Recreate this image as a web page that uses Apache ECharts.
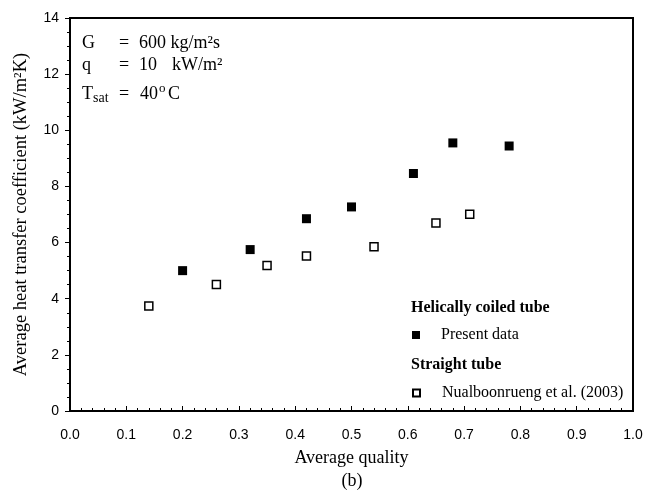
<!DOCTYPE html>
<html>
<head>
<meta charset="utf-8">
<script src="https://cdn.jsdelivr.net/npm/echarts@6/dist/echarts.min.js"></script>
<style>
  html, body { margin: 0; padding: 0; background: #fff; }
  #main { width: 659px; height: 492px; }
</style>
</head>
<body>
<div id="main"></div>
<script>
// helically coiled tube (present data)
const coiledX = [0.20, 0.32, 0.42, 0.50, 0.61, 0.68, 0.78];
const coiledH = [5.0, 5.75, 6.85, 7.27, 8.46, 9.55, 9.44];
// straight tube (Nualboonrueng et al. 2003)
const straightX = [0.14, 0.26, 0.35, 0.42, 0.54, 0.65, 0.71];
const straightH = [3.74, 4.51, 5.18, 5.52, 5.85, 6.70, 7.01];

const serif = 'Liberation Serif';
const sans = 'Liberation Sans';

function pairs(xs, ys) {
  return xs.map((x, i) => [x, ys[i]]);
}
// plain text helper for the graphic layer
function txt(x, y, s, font, align) {
  return { type: 'text', x: x, y: y, style: { text: s, font: font, fill: '#000',
    textAlign: align || 'left', textVerticalAlign: 'middle' } };
}

var myChart = echarts.init(document.getElementById('main'));

const f18 = '18px "Liberation Serif"';

var option = {
  backgroundColor: '#fff',
  animation: false,
  grid: {
    left: 70, right: 26, top: 18, bottom: 81,
    show: true, borderColor: '#000', borderWidth: 2
  },
  xAxis: {
    type: 'value', min: 0, max: 1, interval: 0.1,
    name: 'Average quality', nameLocation: 'middle', nameGap: 38,
    nameTextStyle: { fontFamily: serif, fontSize: 18, color: '#000' },
    axisLine: { lineStyle: { color: '#000', width: 2 } },
    axisTick: { inside: true, length: 5, lineStyle: { color: '#000' } },
    minorTick: { show: true, splitNumber: 5, length: 3, lineStyle: { color: '#000' } },
    axisLabel: { fontFamily: sans, fontSize: 14, color: '#000', margin: 17,
      formatter: v => v.toFixed(1) },
    splitLine: { show: false }
  },
  yAxis: {
    type: 'value', min: 0, max: 14, interval: 2,
    name: 'Average heat transfer coefficient (kW/m²K)', nameLocation: 'middle', nameGap: 39,
    nameTextStyle: { fontFamily: serif, fontSize: 18.5, color: '#000' },
    axisLine: { lineStyle: { color: '#000', width: 2 } },
    axisTick: { length: 5, lineStyle: { color: '#000' } },
    minorTick: { show: true, splitNumber: 4, length: 3, lineStyle: { color: '#000' } },
    axisLabel: { fontFamily: sans, fontSize: 14, color: '#000', margin: 11 },
    splitLine: { show: false }
  },
  legend: [
    {
      data: ['Present data'], left: 412, top: 327, padding: 0, itemWidth: 8, itemHeight: 8,
      textStyle: { fontFamily: serif, fontSize: 16, color: '#000', padding: [0, 0, 0, 16] }
    },
    {
      data: ['Nualboonrueng et al. (2003)'], left: 412, top: 385, padding: 0, itemWidth: 7, itemHeight: 7,
      textStyle: { fontFamily: serif, fontSize: 16, color: '#000', padding: [0, 0, 0, 17] }
    }
  ],
  graphic: [
    txt(82, 43, 'G', f18), txt(119, 43, '=', f18), txt(139, 43, '600 kg/m²s', f18),
    txt(82, 65, 'q', f18), txt(119, 65, '=', f18), txt(139, 65, '10', f18), txt(172, 65, 'kW/m²', f18),
    txt(82, 94, 'T', f18), txt(93, 98, 'sat', '14px "Liberation Serif"'),
    txt(119, 94, '=', f18), txt(140, 94, '40', f18),
    txt(159, 89, 'o', '13px "Liberation Serif"'), txt(168, 94, 'C', f18),
    txt(411, 308, 'Helically coiled tube', 'bold 16px "Liberation Serif"'),
    txt(411, 365, 'Straight tube', 'bold 16px "Liberation Serif"'),
    txt(352, 481, '(b)', f18, 'center')
  ],
  series: [
    {
      name: 'Present data', type: 'scatter', symbol: 'rect', symbolSize: 9,
      itemStyle: { color: '#000', opacity: 1 },
      data: pairs(coiledX, coiledH)
    },
    {
      name: 'Nualboonrueng et al. (2003)', type: 'scatter', symbol: 'rect', symbolSize: 8,
      itemStyle: { color: '#fff', borderColor: '#000', borderWidth: 1.5, opacity: 1 },
      data: pairs(straightX, straightH)
    }
  ]
};

myChart.setOption(option);
</script>
</body>
</html>
